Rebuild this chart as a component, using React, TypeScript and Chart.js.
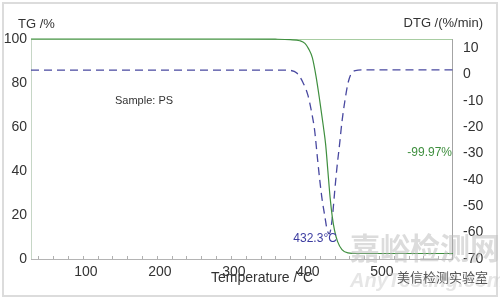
import { useEffect, useRef } from "react";
import { Chart, registerables } from "chart.js";

Chart.register(...registerables);

// TG curve (mass %, left axis)
const tgTemps = [30, 100, 200, 300, 360, 380, 393, 400, 405, 410, 415, 420, 425, 428, 431, 434, 437, 440, 444, 450, 458, 470, 600];
const tgValues = [100, 100, 100, 100, 99.9, 99.7, 99.2, 98, 95.5, 91.5, 83, 72, 60, 52, 40, 28, 19, 13, 8, 4.3, 2.8, 2.5, 2.5];

// DTG curve (%/min, right axis)
const dtgTemps = [30, 200, 370, 380, 389, 397, 404, 409, 413, 417, 420, 423, 427, 430, 433, 435, 437.5, 440, 443, 447, 450, 454, 458, 462, 468, 480, 600];
const dtgValues = [1.6, 1.6, 1.6, 1.5, 0.5, -2.9, -7.9, -14.3, -21, -32, -40, -47, -54, -59, -60.5, -58.5, -53, -45, -36, -26, -18, -10, -3.5, 0, 1.4, 1.7, 1.7];

const xTicks = [100, 200, 300, 400, 500];
const tgTicks = [0, 20, 40, 60, 80, 100];
const dtgTicks = [-70, -60, -50, -40, -30, -20, -10, 0, 10];

const peakTemp = 432.3;
const peakValue = -60.5;
const peakLabel = "432.3°C";
const residueLabel = "-99.97%";
const sampleLabel = "Sample: PS";
const tgTitle = "TG /%";
const dtgTitle = "DTG /(%/min)";
const xTitle = "Temperature /°C";

const FONT = '"Liberation Sans", Arial, sans-serif';

const decorPlugin = {
  id: "decor",
  beforeDraw(chart: any) {
    const { ctx } = chart;
    ctx.save();
    ctx.fillStyle = "#ffffff";
    ctx.fillRect(0, 0, chart.width, chart.height);
    ctx.strokeStyle = "#dcdcdc";
    ctx.lineWidth = 2;
    ctx.strokeRect(3, 3, chart.width - 6, chart.height - 6);
    ctx.restore();
  },
  beforeDatasetsDraw(chart: any) {
    const { ctx, chartArea: a, scales } = chart;
    ctx.save();
    ctx.lineWidth = 1;
    ctx.strokeStyle = "#c6d6c6";
    ctx.beginPath();
    ctx.moveTo(a.left + 0.5, a.top);
    ctx.lineTo(a.left + 0.5, a.bottom);
    ctx.stroke();
    ctx.strokeStyle = "#a8cda2";
    ctx.beginPath();
    ctx.moveTo(a.left, a.top + 0.5);
    ctx.lineTo(a.right, a.top + 0.5);
    ctx.stroke();
    ctx.strokeStyle = "#a4a4a4";
    ctx.beginPath();
    ctx.moveTo(a.right - 0.5, a.top);
    ctx.lineTo(a.right - 0.5, a.bottom);
    ctx.stroke();
    ctx.strokeStyle = "#b4b4b4";
    ctx.beginPath();
    ctx.moveTo(a.left, a.bottom + 0.5);
    ctx.lineTo(a.right, a.bottom + 0.5);
    ctx.stroke();
    const xs = scales.x;
    ctx.strokeStyle = "#b0b0b0";
    for (let v = 40; v < xs.max; v += 20) {
      const px = Math.round(xs.getPixelForValue(v)) + 0.5;
      ctx.beginPath();
      ctx.moveTo(px, a.bottom);
      ctx.lineTo(px, a.bottom - 3);
      ctx.stroke();
    }
    ctx.restore();
  },
  afterDraw(chart: any) {
    const { ctx, scales, chartArea: a } = chart;
    ctx.save();
    ctx.textBaseline = "middle";
    ctx.fillStyle = "#333333";
    ctx.font = `13px ${FONT}`;
    ctx.textAlign = "left";
    ctx.fillText(tgTitle, 18, 24);
    ctx.textAlign = "right";
    ctx.fillText(dtgTitle, 483, 23);
    ctx.textAlign = "left";
    ctx.font = `11px ${FONT}`;
    ctx.fillText(sampleLabel, 115, 101);
    ctx.font = `14px ${FONT}`;
    ctx.fillText(xTitle, 211, 278);

    ctx.fillStyle = "#3f8f3f";
    ctx.font = `12px ${FONT}`;
    ctx.textAlign = "right";
    ctx.fillText(residueLabel, a.right - 1, scales.y2.getPixelForValue(-29.7));

    ctx.fillStyle = "#3c3ca0";
    ctx.font = `12px ${FONT}`;
    ctx.textAlign = "right";
    ctx.fillText(peakLabel, scales.x.getPixelForValue(peakTemp) + 8, scales.y2.getPixelForValue(peakValue) + 5);

    // watermark
    ctx.textAlign = "left";
    ctx.fillStyle = "rgba(185,185,185,0.5)";
    ctx.font = `bold 30px "Noto Sans CJK SC", sans-serif`;
    ctx.fillText("嘉峪检测网", 350, 248);
    ctx.fillStyle = "rgba(200,200,200,0.45)";
    ctx.font = `italic bold 20px ${FONT}`;
    ctx.fillText("AnyTesting.com", 350, 281);
    ctx.fillStyle = "#555555";
    ctx.font = `13px "Noto Sans CJK SC", sans-serif`;
    ctx.fillText("美信检测实验室", 397, 277);
    ctx.restore();
  },
};

export default function App() {
  const ref = useRef<HTMLCanvasElement | null>(null);

  useEffect(() => {
    document.body.style.margin = "0";
    const canvas = ref.current;
    if (!canvas) return;
    const tickFont = { family: FONT, size: 14 };
    const chart = new Chart(canvas, {
      type: "line",
      data: {
        datasets: [
          {
            label: "TG",
            data: tgTemps.map((t, i) => ({ x: t, y: tgValues[i] })),
            yAxisID: "y",
            borderColor: "#3f8f3f",
            borderWidth: 1.2,
            pointRadius: 0,
            cubicInterpolationMode: "monotone",
            clip: 4,
          },
          {
            label: "DTG",
            data: dtgTemps.map((t, i) => ({ x: t, y: dtgValues[i] })),
            yAxisID: "y2",
            borderColor: "#4848a0",
            borderWidth: 1.3,
            borderDash: [8, 5],
            pointRadius: 0,
            cubicInterpolationMode: "monotone",
            clip: 4,
          },
        ],
      },
      options: {
        animation: false,
        responsive: false,
        devicePixelRatio: 1,
        layout: { padding: { top: 39, left: 0, right: 0, bottom: 0 } },
        plugins: { legend: { display: false }, tooltip: { enabled: false } },
        scales: {
          x: {
            type: "linear",
            position: "bottom",
            min: 30,
            max: 600,
            grid: { display: false, drawTicks: false },
            border: { display: false },
            afterBuildTicks: (s: any) => {
              s.ticks = xTicks.map((v) => ({ value: v }));
            },
            afterFit: (s: any) => {
              s.height = 40;
            },
            ticks: { font: tickFont, color: "#333", padding: 5, maxRotation: 0, labelOffset: 3 },
          },
          y: {
            type: "linear",
            position: "left",
            min: 0,
            max: 100,
            grid: { display: false, drawTicks: false },
            border: { display: false },
            afterBuildTicks: (s: any) => {
              s.ticks = tgTicks.map((v) => ({ value: v }));
            },
            afterFit: (s: any) => {
              s.width = 31;
            },
            ticks: { font: tickFont, color: "#333", padding: 4 },
          },
          y2: {
            type: "linear",
            position: "right",
            min: -70,
            max: 13.4,
            grid: { display: false, drawTicks: false },
            border: { display: false },
            afterBuildTicks: (s: any) => {
              s.ticks = dtgTicks.map((v) => ({ value: v }));
            },
            afterFit: (s: any) => {
              s.width = 47;
            },
            ticks: { font: tickFont, color: "#333", padding: 10 },
          },
        },
      },
      plugins: [decorPlugin],
    } as any);
    return () => chart.destroy();
  }, []);

  return (
    <div style={{ position: "absolute", left: 0, top: 0, width: 500, height: 299 }}>
      <canvas ref={ref} width={500} height={299} style={{ width: 500, height: 299, display: "block" }} />
    </div>
  );
}
